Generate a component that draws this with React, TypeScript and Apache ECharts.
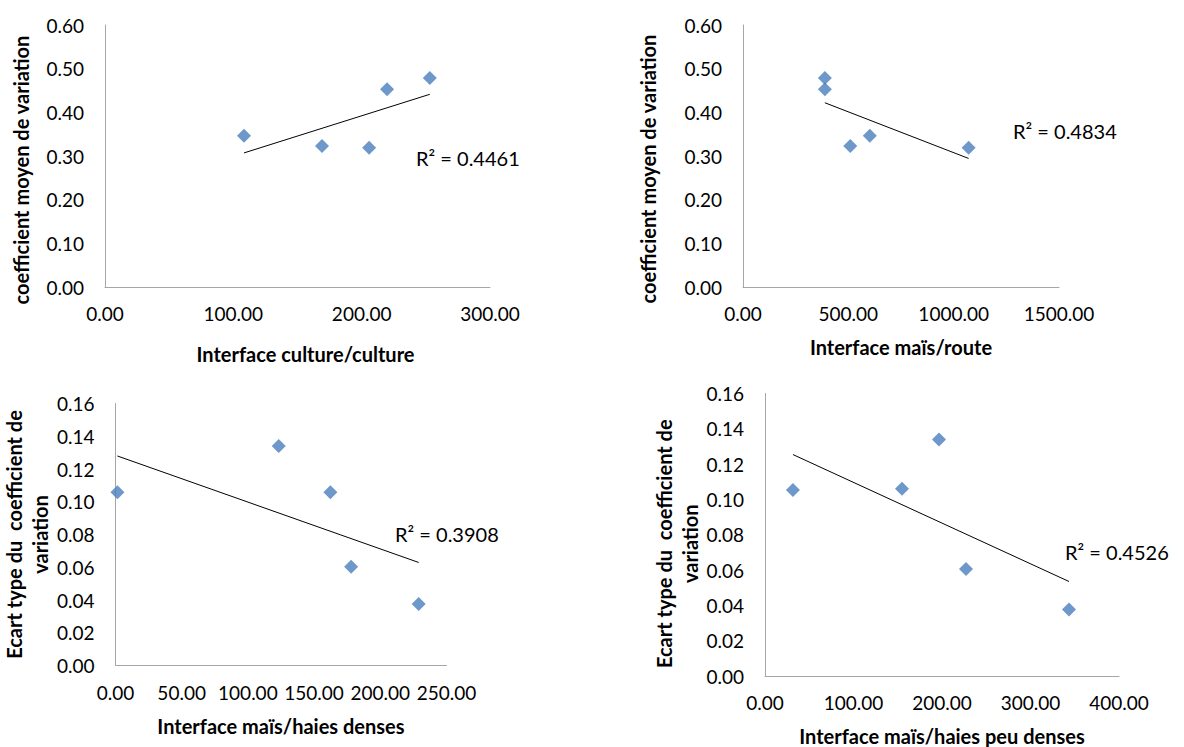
import React, { useEffect, useRef } from "react";
import * as echarts from "echarts";

// Chart 1: Interface culture/culture vs coefficient moyen de variation
const cultureX = [108.3, 169.1, 205.8, 219.8, 253.1];
const cultureY = [0.3465, 0.3229, 0.319, 0.4527, 0.4786];
// Chart 2: Interface maïs/route
const routeX = [388.6, 388.6, 509, 602, 1071];
const routeY = [0.4786, 0.4527, 0.3229, 0.3465, 0.319];
// Chart 3: Interface maïs/haies denses
const densesX = [1.5, 123.3, 162.3, 178, 229];
const densesY = [0.1058, 0.1341, 0.1058, 0.0603, 0.0375];
// Chart 4: Interface maïs/haies peu denses
const peuDensesX = [31.6, 154.8, 196.6, 227.1, 343.5];
const peuDensesY = [0.1054, 0.106, 0.134, 0.0606, 0.0377];

const r2Labels = ["R² = 0.4461", "R² = 0.4834", "R² = 0.3908", "R² = 0.4526"];
const xTitles = [
  "Interface culture/culture",
  "Interface maïs/route",
  "Interface maïs/haies denses",
  "Interface maïs/haies peu denses",
];
const yTitles = [
  "coefficient moyen de variation",
  "coefficient moyen de variation",
  "Ecart type du  coefficient de\nvariation",
  "Ecart type du  coefficient de\nvariation",
];
const xMax = [300, 1500, 250, 400];
const xInterval = [100, 500, 50, 100];
const yMax = [0.6, 0.6, 0.16, 0.16];
const yInterval = [0.1, 0.1, 0.02, 0.02];

const FONT = "Lato, 'Noto Sans', sans-serif";
const BLUE = "#4A7EBB";

function fit(xs: number[], ys: number[]) {
  const n = xs.length;
  const mx = xs.reduce((a, b) => a + b, 0) / n;
  const my = ys.reduce((a, b) => a + b, 0) / n;
  let sxy = 0, sxx = 0;
  for (let i = 0; i < n; i++) {
    sxy += (xs[i] - mx) * (ys[i] - my);
    sxx += (xs[i] - mx) ** 2;
  }
  const slope = sxy / sxx;
  const b = my - slope * mx;
  const x0 = Math.min(...xs);
  const x1 = Math.max(...xs);
  return [[x0, slope * x0 + b], [x1, slope * x1 + b]];
}

export default function App() {
  const ref = useRef<HTMLDivElement>(null);
  useEffect(() => {
    if (!ref.current) return;
    const chart = echarts.init(ref.current, undefined, { renderer: "svg" });
    const sets = [
      [cultureX, cultureY],
      [routeX, routeY],
      [densesX, densesY],
      [peuDensesX, peuDensesY],
    ];
    const grids = [
      { left: 105, top: 25, width: 385, height: 262 },
      { left: 743, top: 25, width: 316, height: 262 },
      { left: 113, top: 403.5, width: 333.5, height: 262 },
      { left: 765, top: 393.5, width: 354, height: 283 },
    ];
    const xNameGap = [57, 50, 50, 50];
    const yNameGap = [71, 82, 60, 62];
    const xNamePad = [[0, 0, 0, 16], 0, 0, 0];
    const yNamePad = [[0, 28, 0, 0], [0, 26, 0, 0], 0, [0, 18, 0, 0]];
    const labelPos = [
      [416, 160],
      [1013, 133],
      [395, 536],
      [1065, 554],
    ];
    const axisLine = { show: true, lineStyle: { color: "#A6A6A6", width: 1 } };
    const option: any = {
      animation: false,
      textStyle: { fontFamily: FONT },
      grid: grids.map((g) => ({ ...g, containLabel: false })),
      xAxis: grids.map((_, i) => ({
        type: "value",
        gridIndex: i,
        min: 0,
        max: xMax[i],
        interval: xInterval[i],
        name: xTitles[i],
        nameLocation: "middle",
        nameGap: xNameGap[i],
        nameTextStyle: {
          fontFamily: FONT,
          fontSize: 20,
          fontWeight: "bold",
          color: "#000",
          padding: xNamePad[i],
        },
        axisLine,
        axisTick: { show: false },
        splitLine: { show: false },
        axisLabel: {
          fontFamily: FONT,
          fontSize: 19,
          color: "#000",
          margin: 17,
          formatter: (v: number) => v.toFixed(2),
        },
      })),
      yAxis: grids.map((_, i) => ({
        type: "value",
        gridIndex: i,
        min: 0,
        max: yMax[i],
        interval: yInterval[i],
        name: yTitles[i],
        nameLocation: "middle",
        nameGap: yNameGap[i],
        nameTextStyle: {
          fontFamily: FONT,
          fontSize: 20,
          fontWeight: "bold",
          color: "#000",
          lineHeight: 26,
          padding: yNamePad[i],
        },
        axisLine,
        axisTick: { show: false },
        splitLine: { show: false },
        axisLabel: {
          fontFamily: FONT,
          fontSize: 19,
          color: "#000",
          margin: 21,
          formatter: (v: number) => v.toFixed(2),
        },
      })),
      series: sets.flatMap(([xs, ys], i) => [
        {
          type: "line",
          xAxisIndex: i,
          yAxisIndex: i,
          data: fit(xs, ys),
          symbol: "none",
          lineStyle: { color: "#000", width: 1 },
          z: 1,
        },
        {
          type: "scatter",
          xAxisIndex: i,
          yAxisIndex: i,
          symbol: "diamond",
          symbolSize: 14,
          itemStyle: { color: BLUE },
          data: xs.map((x, k) => [x, ys[k]]),
          z: 2,
        },
      ]),
      graphic: labelPos.map(([x, y], i) => ({
        type: "text",
        left: x,
        top: y - 12,
        style: { text: r2Labels[i], font: `20px ${FONT}`, fill: "#000" },
      })),
    };
    chart.setOption(option);
    return () => chart.dispose();
  }, []);
  return (
    <div
      ref={ref}
      style={{ position: "fixed", left: 0, top: 0, width: 1184, height: 747, background: "#fff" }}
    />
  );
}
